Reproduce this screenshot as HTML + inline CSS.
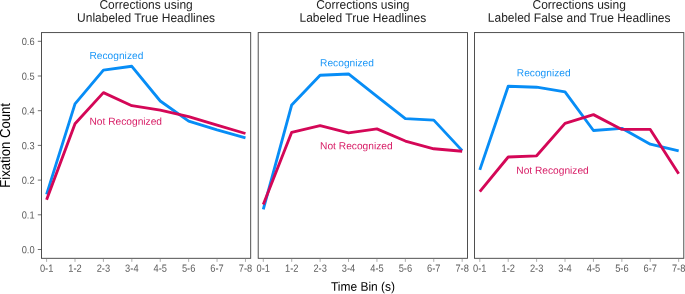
<!DOCTYPE html>
<html><head><meta charset="utf-8"><title>Fixation Count by Time Bin</title>
<style>
html,body{margin:0;padding:0;background:#fff;}
body{width:685px;height:294px;overflow:hidden;font-family:"Liberation Sans",sans-serif;}
svg{display:block;will-change:transform;}
text{font-family:"Liberation Sans",sans-serif;}
.tk{font-size:9.3px;fill:#5c5c5c;}
.ttl{font-size:12.0px;fill:#222222;}
.ax{font-size:12.0px;fill:#000;}
.lb{font-size:10.2px;fill-opacity:0.92;}
</style></head><body>
<svg width="685" height="294" viewBox="0 0 685 294">
<rect x="0" y="0" width="685" height="294" fill="#ffffff"/>

<g>
<polyline points="46.60,194.33 75.01,103.93 103.42,70.10 131.83,66.28 160.24,100.98 188.65,121.11 217.06,129.96 245.47,137.87" fill="none" stroke="#078DF6" stroke-width="2.85" stroke-linejoin="round" stroke-linecap="butt"/>
<polyline points="46.60,199.71 75.01,123.71 103.42,92.59 131.83,105.67 160.24,110.18 188.65,116.60 217.06,125.10 245.47,133.50" fill="none" stroke="#D40757" stroke-width="2.85" stroke-linejoin="round" stroke-linecap="butt"/>
<rect x="41.5" y="32.6" width="209.20" height="225.70" fill="none" stroke="#3d3d3d" stroke-width="0.9"/>
<line x1="46.60" y1="258.3" x2="46.60" y2="261.90000000000003" stroke="#777777" stroke-width="0.6"/>
<text class="tk" transform="translate(46.60,271.8) rotate(0.03) scale(1,1.12)" text-anchor="middle">0-1</text>
<line x1="75.01" y1="258.3" x2="75.01" y2="261.90000000000003" stroke="#777777" stroke-width="0.6"/>
<text class="tk" transform="translate(75.01,271.8) rotate(0.03) scale(1,1.12)" text-anchor="middle">1-2</text>
<line x1="103.42" y1="258.3" x2="103.42" y2="261.90000000000003" stroke="#777777" stroke-width="0.6"/>
<text class="tk" transform="translate(103.42,271.8) rotate(0.03) scale(1,1.12)" text-anchor="middle">2-3</text>
<line x1="131.83" y1="258.3" x2="131.83" y2="261.90000000000003" stroke="#777777" stroke-width="0.6"/>
<text class="tk" transform="translate(131.83,271.8) rotate(0.03) scale(1,1.12)" text-anchor="middle">3-4</text>
<line x1="160.24" y1="258.3" x2="160.24" y2="261.90000000000003" stroke="#777777" stroke-width="0.6"/>
<text class="tk" transform="translate(160.24,271.8) rotate(0.03) scale(1,1.12)" text-anchor="middle">4-5</text>
<line x1="188.65" y1="258.3" x2="188.65" y2="261.90000000000003" stroke="#777777" stroke-width="0.6"/>
<text class="tk" transform="translate(188.65,271.8) rotate(0.03) scale(1,1.12)" text-anchor="middle">5-6</text>
<line x1="217.06" y1="258.3" x2="217.06" y2="261.90000000000003" stroke="#777777" stroke-width="0.6"/>
<text class="tk" transform="translate(217.06,271.8) rotate(0.03) scale(1,1.12)" text-anchor="middle">6-7</text>
<line x1="245.47" y1="258.3" x2="245.47" y2="261.90000000000003" stroke="#777777" stroke-width="0.6"/>
<text class="tk" transform="translate(245.47,271.8) rotate(0.03) scale(1,1.12)" text-anchor="middle">7-8</text>
<text class="ttl" transform="translate(146.10,8.8) rotate(0.03) scale(1,1.04)" text-anchor="middle">Corrections using</text>
<text class="ttl" transform="translate(146.10,21.9) rotate(0.03) scale(1,1.04)" text-anchor="middle">Unlabeled True Headlines</text>
<text class="lb" transform="translate(89.5,59.0) rotate(0.03)" fill="#078DF6">Recognized</text>
<text class="lb" transform="translate(89.5,124.8) rotate(0.03)" fill="#D40757">Not Recognized</text>
</g>
<g>
<polyline points="263.30,209.42 291.71,104.97 320.12,75.24 348.53,73.99 376.94,96.47 405.35,118.68 433.76,120.14 462.17,150.61" fill="none" stroke="#078DF6" stroke-width="2.85" stroke-linejoin="round" stroke-linecap="butt"/>
<polyline points="263.30,204.56 291.71,132.35 320.12,125.62 348.53,132.91 376.94,128.92 405.35,141.06 433.76,148.77 462.17,151.23" fill="none" stroke="#D40757" stroke-width="2.85" stroke-linejoin="round" stroke-linecap="butt"/>
<rect x="258.2" y="32.6" width="209.30" height="225.70" fill="none" stroke="#3d3d3d" stroke-width="0.9"/>
<line x1="263.30" y1="258.3" x2="263.30" y2="261.90000000000003" stroke="#777777" stroke-width="0.6"/>
<text class="tk" transform="translate(263.30,271.8) rotate(0.03) scale(1,1.12)" text-anchor="middle">0-1</text>
<line x1="291.71" y1="258.3" x2="291.71" y2="261.90000000000003" stroke="#777777" stroke-width="0.6"/>
<text class="tk" transform="translate(291.71,271.8) rotate(0.03) scale(1,1.12)" text-anchor="middle">1-2</text>
<line x1="320.12" y1="258.3" x2="320.12" y2="261.90000000000003" stroke="#777777" stroke-width="0.6"/>
<text class="tk" transform="translate(320.12,271.8) rotate(0.03) scale(1,1.12)" text-anchor="middle">2-3</text>
<line x1="348.53" y1="258.3" x2="348.53" y2="261.90000000000003" stroke="#777777" stroke-width="0.6"/>
<text class="tk" transform="translate(348.53,271.8) rotate(0.03) scale(1,1.12)" text-anchor="middle">3-4</text>
<line x1="376.94" y1="258.3" x2="376.94" y2="261.90000000000003" stroke="#777777" stroke-width="0.6"/>
<text class="tk" transform="translate(376.94,271.8) rotate(0.03) scale(1,1.12)" text-anchor="middle">4-5</text>
<line x1="405.35" y1="258.3" x2="405.35" y2="261.90000000000003" stroke="#777777" stroke-width="0.6"/>
<text class="tk" transform="translate(405.35,271.8) rotate(0.03) scale(1,1.12)" text-anchor="middle">5-6</text>
<line x1="433.76" y1="258.3" x2="433.76" y2="261.90000000000003" stroke="#777777" stroke-width="0.6"/>
<text class="tk" transform="translate(433.76,271.8) rotate(0.03) scale(1,1.12)" text-anchor="middle">6-7</text>
<line x1="462.17" y1="258.3" x2="462.17" y2="261.90000000000003" stroke="#777777" stroke-width="0.6"/>
<text class="tk" transform="translate(462.17,271.8) rotate(0.03) scale(1,1.12)" text-anchor="middle">7-8</text>
<text class="ttl" transform="translate(362.85,8.8) rotate(0.03) scale(1,1.04)" text-anchor="middle">Corrections using</text>
<text class="ttl" transform="translate(362.85,21.9) rotate(0.03) scale(1,1.04)" text-anchor="middle">Labeled True Headlines</text>
<text class="lb" transform="translate(320.1,66.3) rotate(0.03)" fill="#078DF6">Recognized</text>
<text class="lb" transform="translate(320.1,149.3) rotate(0.03)" fill="#D40757">Not Recognized</text>
</g>
<g>
<polyline points="479.80,169.86 508.21,86.24 536.62,87.21 565.03,91.79 593.44,130.48 621.85,128.33 650.26,144.19 678.67,150.95" fill="none" stroke="#078DF6" stroke-width="2.85" stroke-linejoin="round" stroke-linecap="butt"/>
<polyline points="479.80,191.55 508.21,157.02 536.62,155.81 565.03,123.37 593.44,114.62 621.85,129.44 650.26,129.44 678.67,173.85" fill="none" stroke="#D40757" stroke-width="2.85" stroke-linejoin="round" stroke-linecap="butt"/>
<rect x="474.5" y="32.6" width="209.30" height="225.70" fill="none" stroke="#3d3d3d" stroke-width="0.9"/>
<line x1="479.80" y1="258.3" x2="479.80" y2="261.90000000000003" stroke="#777777" stroke-width="0.6"/>
<text class="tk" transform="translate(479.80,271.8) rotate(0.03) scale(1,1.12)" text-anchor="middle">0-1</text>
<line x1="508.21" y1="258.3" x2="508.21" y2="261.90000000000003" stroke="#777777" stroke-width="0.6"/>
<text class="tk" transform="translate(508.21,271.8) rotate(0.03) scale(1,1.12)" text-anchor="middle">1-2</text>
<line x1="536.62" y1="258.3" x2="536.62" y2="261.90000000000003" stroke="#777777" stroke-width="0.6"/>
<text class="tk" transform="translate(536.62,271.8) rotate(0.03) scale(1,1.12)" text-anchor="middle">2-3</text>
<line x1="565.03" y1="258.3" x2="565.03" y2="261.90000000000003" stroke="#777777" stroke-width="0.6"/>
<text class="tk" transform="translate(565.03,271.8) rotate(0.03) scale(1,1.12)" text-anchor="middle">3-4</text>
<line x1="593.44" y1="258.3" x2="593.44" y2="261.90000000000003" stroke="#777777" stroke-width="0.6"/>
<text class="tk" transform="translate(593.44,271.8) rotate(0.03) scale(1,1.12)" text-anchor="middle">4-5</text>
<line x1="621.85" y1="258.3" x2="621.85" y2="261.90000000000003" stroke="#777777" stroke-width="0.6"/>
<text class="tk" transform="translate(621.85,271.8) rotate(0.03) scale(1,1.12)" text-anchor="middle">5-6</text>
<line x1="650.26" y1="258.3" x2="650.26" y2="261.90000000000003" stroke="#777777" stroke-width="0.6"/>
<text class="tk" transform="translate(650.26,271.8) rotate(0.03) scale(1,1.12)" text-anchor="middle">6-7</text>
<line x1="678.67" y1="258.3" x2="678.67" y2="261.90000000000003" stroke="#777777" stroke-width="0.6"/>
<text class="tk" transform="translate(678.67,271.8) rotate(0.03) scale(1,1.12)" text-anchor="middle">7-8</text>
<text class="ttl" transform="translate(579.15,8.8) rotate(0.03) scale(1,1.04)" text-anchor="middle">Corrections using</text>
<text class="ttl" transform="translate(579.15,21.9) rotate(0.03) scale(1,1.04)" text-anchor="middle">Labeled False and True Headlines</text>
<text class="lb" transform="translate(516.8,76.2) rotate(0.03)" fill="#078DF6">Recognized</text>
<text class="lb" transform="translate(516.3,173.8) rotate(0.03)" fill="#D40757">Not Recognized</text>
</g>
<line x1="37.8" y1="249.50" x2="41.5" y2="249.50" stroke="#333333" stroke-width="0.7"/>
<text class="tk" transform="translate(34.6,253.25) rotate(0.03) scale(1,1.1)" text-anchor="end">0.0</text>
<line x1="37.8" y1="214.80" x2="41.5" y2="214.80" stroke="#333333" stroke-width="0.7"/>
<text class="tk" transform="translate(34.6,218.55) rotate(0.03) scale(1,1.1)" text-anchor="end">0.1</text>
<line x1="37.8" y1="180.10" x2="41.5" y2="180.10" stroke="#333333" stroke-width="0.7"/>
<text class="tk" transform="translate(34.6,183.85) rotate(0.03) scale(1,1.1)" text-anchor="end">0.2</text>
<line x1="37.8" y1="145.40" x2="41.5" y2="145.40" stroke="#333333" stroke-width="0.7"/>
<text class="tk" transform="translate(34.6,149.15) rotate(0.03) scale(1,1.1)" text-anchor="end">0.3</text>
<line x1="37.8" y1="110.70" x2="41.5" y2="110.70" stroke="#333333" stroke-width="0.7"/>
<text class="tk" transform="translate(34.6,114.45) rotate(0.03) scale(1,1.1)" text-anchor="end">0.4</text>
<line x1="37.8" y1="76.00" x2="41.5" y2="76.00" stroke="#333333" stroke-width="0.7"/>
<text class="tk" transform="translate(34.6,79.75) rotate(0.03) scale(1,1.1)" text-anchor="end">0.5</text>
<line x1="37.8" y1="41.30" x2="41.5" y2="41.30" stroke="#333333" stroke-width="0.7"/>
<text class="tk" transform="translate(34.6,45.05) rotate(0.03) scale(1,1.1)" text-anchor="end">0.6</text>
<text class="ax" transform="translate(363,290.7) rotate(0.03) scale(1,1.04)" text-anchor="middle">Time Bin (s)</text>
<text class="ax" style="font-size:13.15px" transform="translate(10.1,145.4) rotate(-90.03) scale(1,1.1)" text-anchor="middle">Fixation Count</text>
</svg></body></html>
